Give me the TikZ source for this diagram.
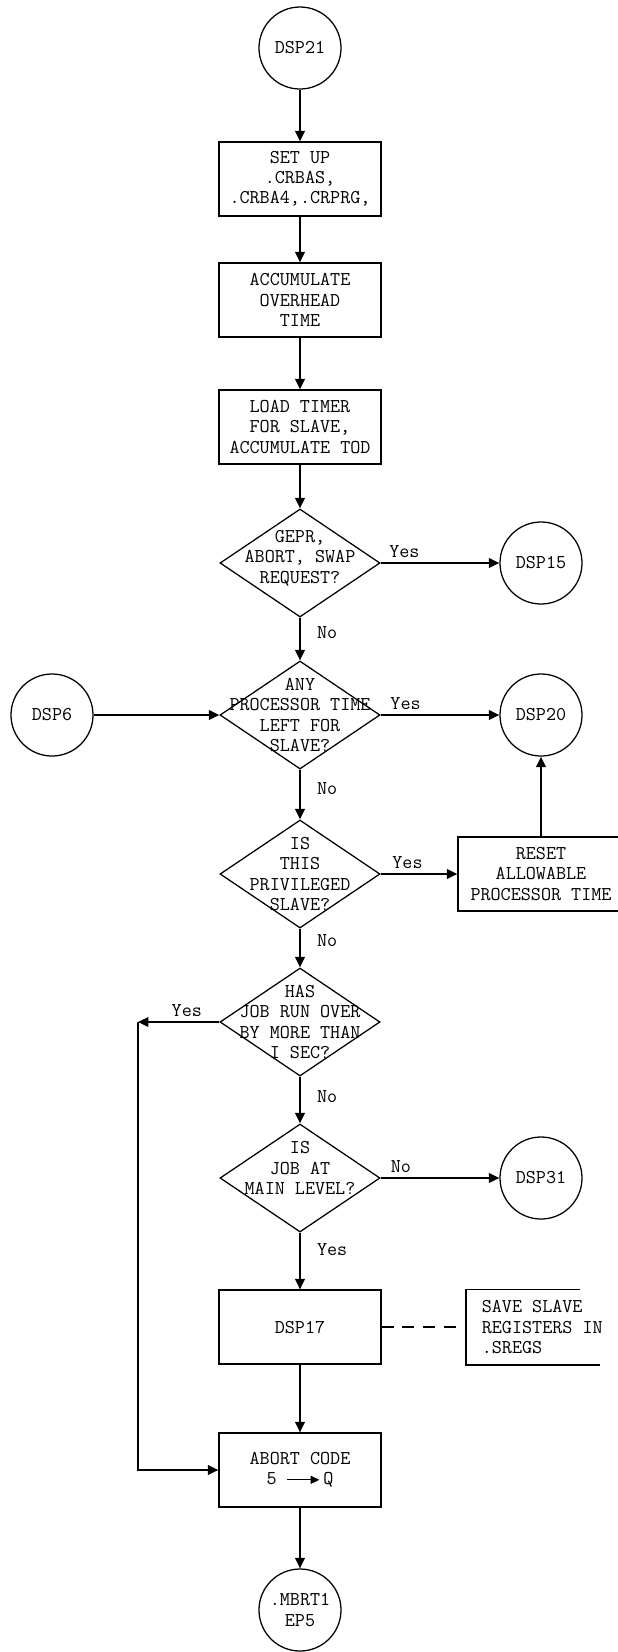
\documentclass[tikz,border=0pt]{standalone}
\usepackage{fontspec}
\usetikzlibrary{arrows.meta,positioning,shapes.geometric}
\tikzset{
    term/.style={circle, draw, line width=0.9pt, minimum size=2.05cm, inner sep=0pt, align=center},
    proc/.style={rectangle, draw, line width=0.9pt, minimum width=4.05cm, minimum height=1.85cm, align=center},
    decide/.style={diamond, draw, line width=0.9pt, minimum width=4cm, minimum height=2.7cm, inner sep=0pt},
    dtext/.style={align=center, inner sep=0pt},
    note/.style={align=left, anchor=west, minimum height=1.85cm, inner xsep=0.375cm, inner ysep=0pt},
    lbl/.style={inner sep=3pt},
    every node/.append style={font=\ttfamily\fontsize{13.9}{14.4}\selectfont}
}

\begin{document}
\begin{tikzpicture}[x=0.025cm, y=-0.025cm, >={Triangle[length=2.6mm,width=2.4mm]}, line width=1.2pt]
\useasboundingbox (0,0) rectangle (618,1652);
\def\mainx{300}   % x of the main column
\def\sidex{541}   % x of the right-hand column
% main column
\node[term] (dsp21) at (\mainx,48) {DSP21};
\node[proc] (setup) at (\mainx,179) {SET UP\\.CRBAS,\\.CRBA4,.CRPRG,};
\node[proc] (accum) at (\mainx,300) {ACCUMULATE\\OVERHEAD\\TIME};
\node[proc] (load) at (\mainx,427) {LOAD TIMER\\FOR SLAVE,\\ACCUMULATE TOD};
\node[decide] (gepr) at (\mainx,563) {};
\node[dtext,yshift=0.12cm] (geprtxt) at (gepr) {GEPR,\\ABORT, SWAP\\REQUEST?};
\node[decide] (anytime) at (\mainx,715) {};
\node[dtext] (anytimetxt) at (anytime) {ANY\\PROCESSOR TIME\\LEFT FOR\\SLAVE?};
\node[decide] (priv) at (\mainx,874) {};
\node[dtext] (privtxt) at (priv) {IS\\THIS\\PRIVILEGED\\SLAVE?};
\node[decide] (runover) at (\mainx,1022) {};
\node[dtext] (runovertxt) at (runover) {HAS\\JOB RUN OVER\\BY MORE THAN\\I SEC?};
\node[decide] (mainlvl) at (\mainx,1178) {};
\node[dtext,yshift=0.25cm] (mainlvltxt) at (mainlvl) {IS\\JOB AT\\MAIN LEVEL?};
\node[proc] (dsp17) at (\mainx,1327) {DSP17};
\node[proc] (abort) at (\mainx,1470) {ABORT CODE\\5 \tikz[baseline=-0.6ex]\draw[-{Triangle[length=2.2mm,width=2mm]},line width=0.9pt] (0cm,0cm) -- (0.8cm,0cm);\,Q};
\node[term] (mbrt) at (\mainx,1610) {.MBRT1\\EP5};
% side nodes
\node[term] (dsp15) at (\sidex,563) {DSP15};
\node[term] (dsp6) at (52,715) {DSP6};
\node[term] (dsp20) at (\sidex,715) {DSP20};
\node[proc,minimum width=4.15cm] (reset) at (\sidex,874) {RESET\\ALLOWABLE\\PROCESSOR TIME};
\node[term] (dsp31) at (\sidex,1178) {DSP31};
\node[note] (save) at (466,1327) {SAVE SLAVE\\REGISTERS IN\\.SREGS};
\draw[line width=0.9pt] (save.north west) -- ++(114,0) (save.north west) -- (save.south west) -- ++(134,0);
\coordinate (loop) at (138,1022);
% connectors
\draw[->] (dsp21) -- (setup);
\draw[->] (setup) -- (accum);
\draw[->] (accum) -- (load);
\draw[->] (load) -- (gepr);
\draw[->] (gepr) -- node[lbl, above, pos=0.2] {Yes} (dsp15);
\draw[->] (gepr) -- node[lbl, right=0.3cm, pos=0.35] {No} (anytime);
\draw[->] (dsp6) -- (anytime);
\draw[->] (anytime) -- node[lbl, above, pos=0.21] {Yes} (dsp20);
\draw[->] (anytime) -- node[lbl, right=0.3cm, pos=0.38] {No} (priv);
\draw[->] (priv) -- node[lbl, above, pos=0.35] {Yes} (reset);
\draw[->] (reset) -- (dsp20);
\draw[->] (priv) -- node[lbl, right=0.3cm, pos=0.3] {No} (runover);
\draw[->] (runover) -- node[lbl, above, pos=0.4] {Yes} (loop);
\draw[->] (loop) |- (abort);
\draw[->] (runover) -- node[lbl, right=0.3cm, pos=0.43] {No} (mainlvl);
\draw[->] (mainlvl) -- node[lbl, above, pos=0.17] {No} (dsp31);
\draw[->] (mainlvl) -- node[lbl, right=0.3cm, pos=0.3] {Yes} (dsp17);
\draw[dashed, dash pattern=on 0.3cm off 0.22cm, line width=0.9pt] (dsp17.east) -- (save.west);
\draw[->] (dsp17) -- (abort);
\draw[->] (abort) -- (mbrt);
\end{tikzpicture}
\end{document}
